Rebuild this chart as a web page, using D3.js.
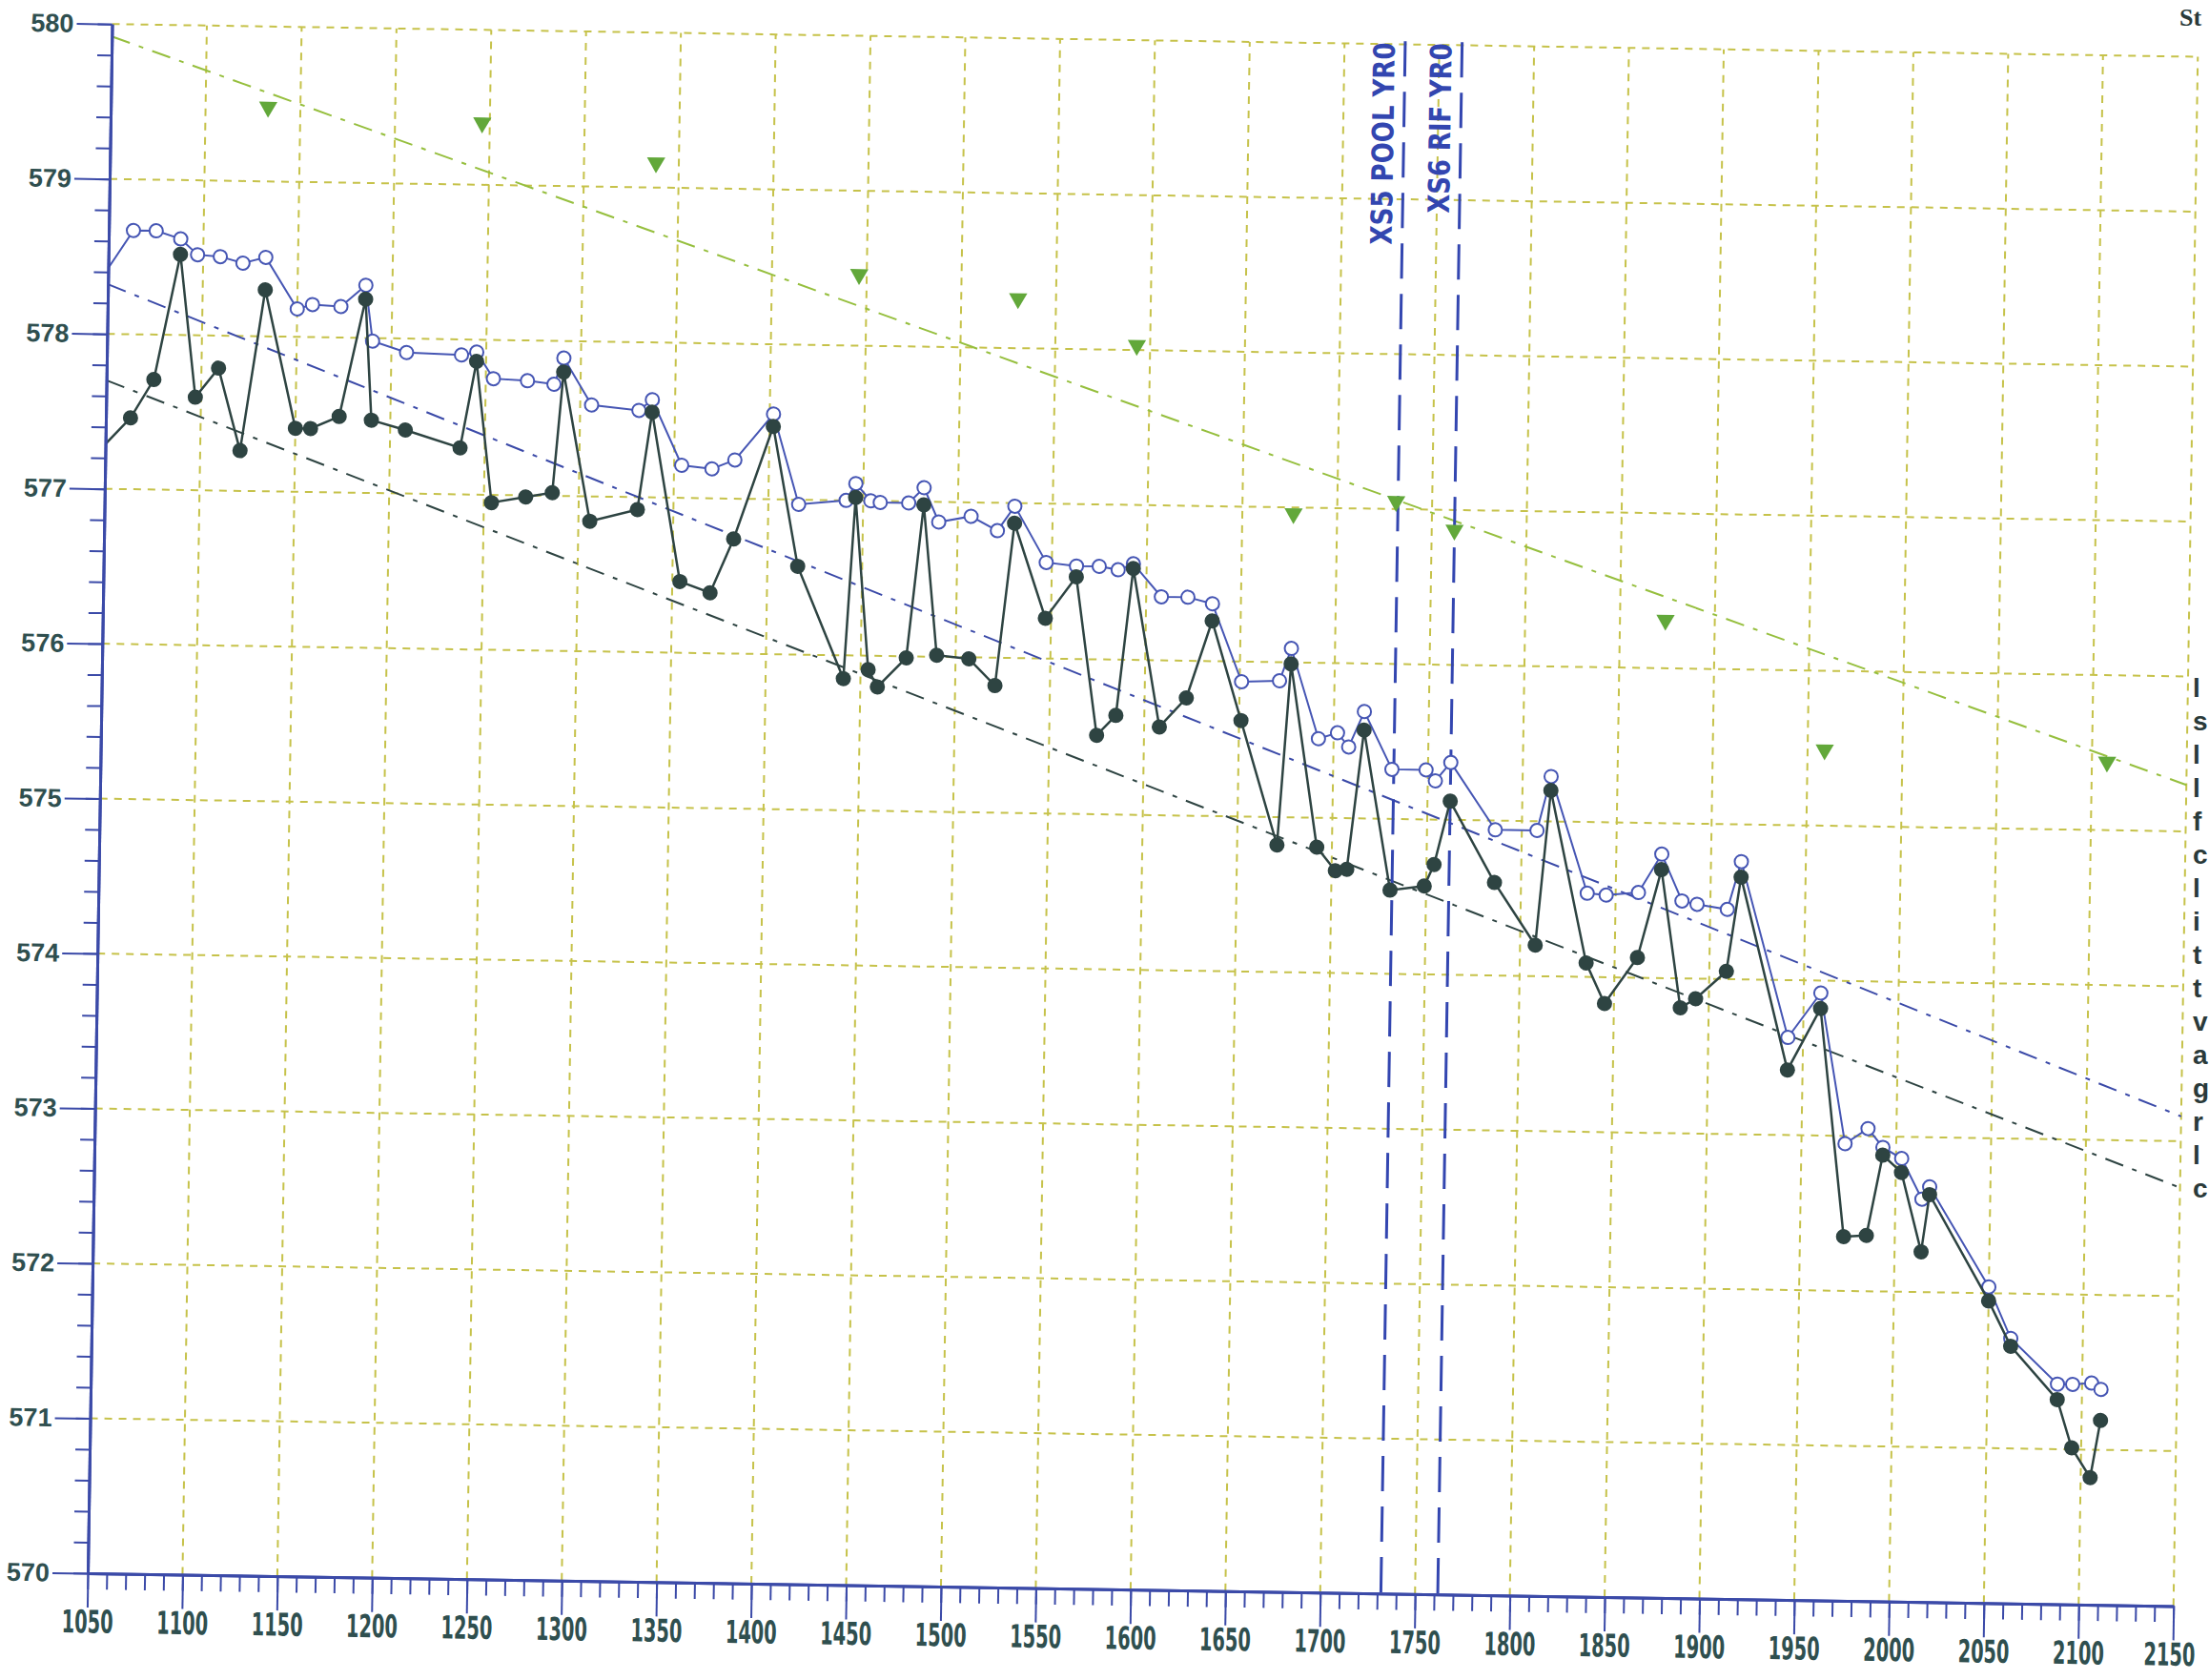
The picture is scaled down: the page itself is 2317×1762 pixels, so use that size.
<!DOCTYPE html>
<html>
<head>
<meta charset="utf-8">
<script src="https://cdn.jsdelivr.net/npm/d3@7"></script>
<style>
  html, body { margin: 0; padding: 0; background: #fff; }
  svg { display: block; }
</style>
</head>
<body>
<div id="chart-container"></div>
<script>
// Profile stations (ft) shared by both surveyed series
const stations = [1044, 1063, 1075, 1088, 1097, 1109, 1121, 1133, 1150, 1158, 1173, 1186, 1190, 1208, 1237, 1245, 1254, 1272, 1286, 1291,
  1306, 1331, 1338, 1354, 1370, 1382, 1402, 1416, 1441, 1446, 1454, 1459, 1474, 1482, 1490, 1507, 1521, 1530, 1547, 1563,
  1575, 1585, 1593, 1608, 1622, 1635, 1651, 1671, 1677, 1692, 1702, 1708, 1716, 1731, 1749, 1754, 1762, 1786, 1808, 1815,
  1835, 1845, 1862, 1874, 1885, 1893, 1909, 1916, 1942, 1959, 1973, 1985, 1993, 2003, 2014, 2018, 2050, 2062, 2087, 2095,
  2105, 2110];

// open circles (water surface)
const waterSurface = [578.31, 578.67, 578.67, 578.62, 578.52, 578.51, 578.47, 578.51, 578.18, 578.21, 578.20, 578.34, 577.98, 577.91, 577.90, 577.92, 577.75, 577.74, 577.72, 577.89,
  577.59, 577.56, 577.63, 577.21, 577.19, 577.25, 577.55, 576.97, 577.00, 577.11, 577.00, 576.99, 576.99, 577.09, 576.87, 576.91, 576.82, 576.98, 576.62, 576.60,
  576.60, 576.58, 576.62, 576.41, 576.41, 576.37, 575.87, 575.88, 576.09, 575.51, 575.55, 575.46, 575.69, 575.32, 575.32, 575.25, 575.37, 574.94, 574.94, 575.29,
  574.54, 574.53, 574.55, 574.80, 574.50, 574.48, 574.45, 574.76, 573.63, 573.92, 572.95, 573.05, 572.93, 572.86, 572.60, 572.68, 572.04, 571.71, 571.42, 571.42,
  571.43, 571.39];

// filled circles (thalweg)
const thalweg = [577.21, 577.46, 577.71, 578.52, 577.60, 577.79, 577.26, 578.30, 577.41, 577.41, 577.49, 578.25, 577.47, 577.41, 577.30, 577.86, 576.95, 576.99, 577.02, 577.80,
  576.84, 576.92, 577.55, 576.46, 576.39, 576.74, 577.47, 576.57, 575.85, 577.02, 575.91, 575.80, 575.99, 576.98, 576.01, 575.99, 575.82, 576.87, 576.26, 576.53,
  575.51, 575.64, 576.59, 575.57, 575.76, 576.26, 575.62, 574.82, 575.99, 574.81, 574.66, 574.67, 575.57, 574.54, 574.57, 574.71, 575.12, 574.60, 574.20, 575.20,
  574.09, 573.83, 574.13, 574.70, 573.81, 573.87, 574.05, 574.66, 573.42, 573.82, 572.35, 572.36, 572.88, 572.77, 572.26, 572.63, 571.95, 571.66, 571.32, 571.01,
  570.82, 571.19];

// green triangles (bankfull)
const bankfullStations = [1133, 1246, 1338, 1446, 1530, 1593, 1677, 1731, 1762, 1874, 1959, 2108];
const bankfullElev = [579.48, 579.40, 579.16, 578.46, 578.32, 578.03, 576.96, 577.05, 576.87, 576.31, 575.49, 575.44];

// straight slope lines, [start, end]
const slopeStations = [1050, 2150];
const bankfullSlope = [579.92, 575.30];
const waterSlope = [578.32, 573.16];
const bedSlope = [577.70, 572.70];

// cross-section markers
const sectionStations = [1732, 1762];
const sectionLabels = ["XS5 POOL YR0", "XS6 RIF YR0"];

// ticks
const xTicks = d3.range(1050, 2151, 50);
const yTicks = d3.range(570, 581, 1);

const W = 2317, H = 1762;
const originX = 92, originY = 1650;
const plotW = 2188, plotH = 1625;

const x = d3.scaleLinear().domain([1050, 2150]).range([originX, originX + plotW]);
const y = d3.scaleLinear().domain([570, 580]).range([originY, originY - plotH]);

const svg = d3.select("#chart-container").append("svg")
  .attr("width", W)
  .attr("height", H);

svg.append("defs").append("clipPath")
  .attr("id", "plot-clip")
  .append("rect")
  .attr("x", x(1050)).attr("y", y(580))
  .attr("width", plotW).attr("height", plotH);

// the scan is tilted slightly clockwise
const g = svg.append("g")
  .attr("transform", `rotate(0.9, ${originX}, ${originY})`);

const gridColor = "#c6c24a";
const blue = "#3b4aa8";
const dark = "#2e4442";
const labelColor = "#2f4f4f";

// grid
g.append("g").selectAll("line")
  .data(xTicks.filter(d => d > 1050))
  .enter().append("line")
  .attr("x1", d => x(d)).attr("x2", d => x(d))
  .attr("y1", y(570)).attr("y2", y(580))
  .attr("stroke", gridColor)
  .attr("stroke-width", 2)
  .attr("stroke-dasharray", "8,7");

g.append("g").selectAll("line")
  .data(yTicks.filter(d => d > 570))
  .enter().append("line")
  .attr("x1", x(1050)).attr("x2", x(2150))
  .attr("y1", d => y(d)).attr("y2", d => y(d))
  .attr("stroke", gridColor)
  .attr("stroke-width", 2)
  .attr("stroke-dasharray", "8,7");

// slope lines
function slopeLine(vals, color, dash) {
  g.append("line")
    .attr("x1", x(slopeStations[0])).attr("y1", y(vals[0]))
    .attr("x2", x(slopeStations[1])).attr("y2", y(vals[1]))
    .attr("stroke", color)
    .attr("stroke-width", 2)
    .attr("stroke-dasharray", dash);
}
slopeLine(bankfullSlope, "#96bf3e", "20,10,5,10");
slopeLine(waterSlope, blue, "20,10,5,10");
slopeLine(bedSlope, dark, "20,10,5,10");

// cross-section lines and labels
sectionStations.forEach((s, i) => {
  g.append("line")
    .attr("x1", x(s)).attr("x2", x(s))
    .attr("y1", y(580.02)).attr("y2", y(570))
    .attr("stroke", "#3346b0")
    .attr("stroke-width", 3)
    .attr("stroke-dasharray", "37,16");

  g.append("text")
    .attr("transform", `translate(${x(s) - 11},${y(580.01)}) rotate(-90)`)
    .attr("text-anchor", "end")
    .attr("font-family", "'Liberation Sans Narrow', 'DejaVu Sans Condensed', 'Liberation Sans', sans-serif")
    .attr("font-weight", "bold")
    .attr("font-size", 31)
    .attr("textLength", i === 0 ? 212 : 178)
    .attr("lengthAdjust", "spacingAndGlyphs")
    .attr("fill", "#3346b0")
    .text(sectionLabels[i]);
});

// surveyed series
const openPts = stations.map((s, i) => ({ s, e: waterSurface[i] }));
const filledPts = stations.map((s, i) => ({ s, e: thalweg[i] }));

const line = d3.line()
  .x(d => x(d.s))
  .y(d => y(d.e));

const series = g.append("g").attr("clip-path", "url(#plot-clip)");

series.append("path")
  .datum(openPts)
  .attr("fill", "none")
  .attr("stroke", "#4656b4")
  .attr("stroke-width", 2)
  .attr("d", line);

series.selectAll(".open")
  .data(openPts.filter(d => d.s >= 1050))
  .enter().append("circle")
  .attr("class", "open")
  .attr("cx", d => x(d.s))
  .attr("cy", d => y(d.e))
  .attr("r", 7)
  .attr("fill", "#fff")
  .attr("stroke", "#4656b4")
  .attr("stroke-width", 2);

series.append("path")
  .datum(filledPts)
  .attr("fill", "none")
  .attr("stroke", dark)
  .attr("stroke-width", 2.5)
  .attr("d", line);

series.selectAll(".dot")
  .data(filledPts.filter(d => d.s >= 1050))
  .enter().append("circle")
  .attr("class", "dot")
  .attr("cx", d => x(d.s))
  .attr("cy", d => y(d.e))
  .attr("r", 8)
  .attr("fill", dark);

// bankfull triangles
g.selectAll(".bkf")
  .data(bankfullStations.map((s, i) => ({ s, e: bankfullElev[i] })))
  .enter().append("path")
  .attr("class", "bkf")
  .attr("d", d3.symbol().type(d3.symbolTriangle).size(160))
  .attr("transform", d => `translate(${x(d.s)},${y(d.e)}) rotate(180)`)
  .attr("fill", "#62a83a");

// axes
const xMinor = g.append("g")
  .attr("transform", `translate(0,${originY})`)
  .call(d3.axisBottom(x).tickValues(d3.range(1050, 2151, 10)).tickSize(17).tickSizeOuter(0).tickFormat(""));

const xMajor = g.append("g")
  .attr("transform", `translate(0,${originY})`)
  .call(d3.axisBottom(x).tickValues(xTicks).tickSize(36).tickSizeOuter(0).tickPadding(3).tickFormat(d3.format("d")));

const yMinor = g.append("g")
  .attr("transform", `translate(${originX},0)`)
  .call(d3.axisLeft(y).tickValues(d3.range(0, 51).map(i => 570 + i * 0.2)).tickSize(15).tickSizeOuter(0).tickFormat(""));

const yMajor = g.append("g")
  .attr("transform", `translate(${originX},0)`)
  .call(d3.axisLeft(y).tickValues(yTicks).tickSize(37).tickSizeOuter(0).tickPadding(3).tickFormat(d3.format("d")));

[xMinor, xMajor, yMinor, yMajor].forEach(a => {
  a.selectAll("path.domain").attr("stroke", blue).attr("stroke-width", 3);
  a.selectAll(".tick line").attr("stroke", blue).attr("stroke-width", 2);
});

// condensed bold x labels: squeeze each one to the width seen in the scan
xMajor.selectAll(".tick text")
  .attr("font-family", "'Liberation Sans Narrow', 'DejaVu Sans Condensed', 'Liberation Sans', sans-serif")
  .attr("font-weight", "bold")
  .attr("font-size", 33)
  .attr("fill", labelColor)
  .each(function (d) {
    const len = this.getComputedTextLength();
    const shift = d === 2150 ? -4 : 0;
    d3.select(this).attr("transform", `translate(${shift},0) scale(${54 / len},1)`);
  });

yMajor.selectAll(".tick text")
  .attr("font-family", "'Liberation Sans', Arial, sans-serif")
  .attr("font-weight", "bold")
  .attr("font-size", 27)
  .attr("fill", labelColor);

// text at the right edge of the scan (mostly cropped in the original)
svg.append("text")
  .attr("x", 2286).attr("y", 27)
  .attr("font-family", "'Liberation Serif', serif")
  .attr("font-weight", "bold")
  .attr("font-size", 26)
  .attr("fill", "#2a3a3a")
  .text("St");

const edgeLetters = ["l", "s", "l", "l", "f", "c", "l", "i", "t", "t", "v", "a", "g", "r", "l", "c"];
svg.append("g").selectAll("text")
  .data(edgeLetters)
  .enter().append("text")
  .attr("x", 2300)
  .attr("y", (d, i) => 731 + i * 35)
  .attr("font-family", "'Liberation Sans', sans-serif")
  .attr("font-weight", "bold")
  .attr("font-size", 28)
  .attr("fill", "#2a3a3a")
  .text(d => d);
</script>
</body>
</html>
